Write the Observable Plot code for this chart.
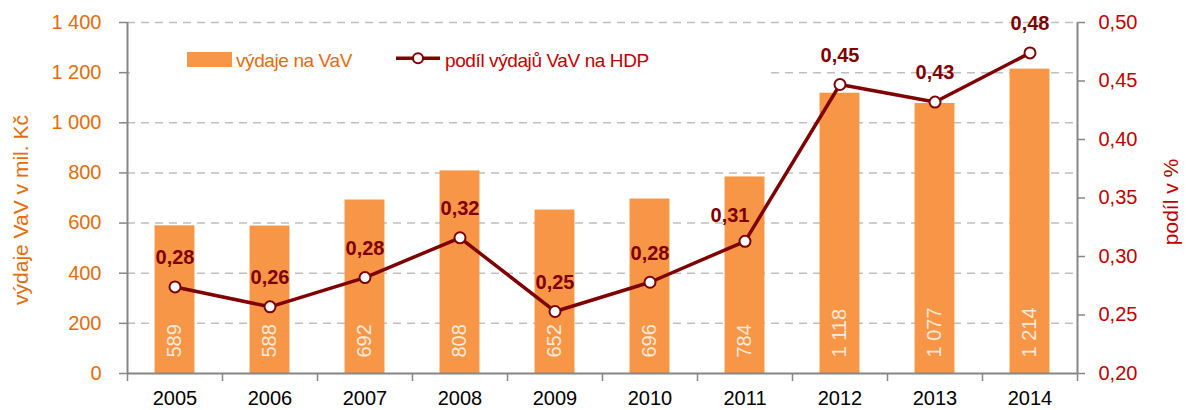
<!DOCTYPE html>
<html>
<head>
<meta charset="utf-8">
<script src="https://cdn.jsdelivr.net/npm/d3@7"></script>
<script src="https://cdn.jsdelivr.net/npm/@observablehq/plot@0.6"></script>
<style>
  html, body { margin: 0; padding: 0; background: #fff; }
  #wrap { position: relative; width: 1186px; height: 410px; font-family: "Liberation Sans", Arial, sans-serif; }
  #legend { position: absolute; left: 130px; top: 40px; background: #fff; }
</style>
</head>
<body>
<div id="wrap"></div>
<script>
// ---- data ----
const years = [2005, 2006, 2007, 2008, 2009, 2010, 2011, 2012, 2013, 2014];
const spending = [589, 588, 692, 808, 652, 696, 784, 1118, 1077, 1214];
const shareGdp = [0.274, 0.257, 0.282, 0.316, 0.253, 0.278, 0.313, 0.447, 0.432, 0.474];
const shareLabels = ["0,28", "0,26", "0,28", "0,32", "0,25", "0,28", "0,31", "0,45", "0,43", "0,48"];
const leftTicks = [0, 200, 400, 600, 800, 1000, 1200, 1400];
const rightTicks = [0.20, 0.25, 0.30, 0.35, 0.40, 0.45, 0.50];
const leftTitle = "výdaje VaV v mil. Kč";
const rightTitle = "podíl v %";
const legendBars = "výdaje na VaV";
const legendLine = "podíl výdajů VaV na HDP";

// ---- styling ----
const FONT = "Liberation Sans, Arial, sans-serif";
const ORANGE_BAR = "#F79646";
const ORANGE_TXT = "#E46C0A";
const RED_TXT = "#C00000";
const DARK = "#7F0000";
const GRAY = "#868686";
const GRID = "#BFBFBF";

const leftMax = 1400;
const rMin = 0.2, rMax = 0.5;
const toLeft = v => (v - rMin) / (rMax - rMin) * leftMax;

const fmtLocale = d3.formatLocale({decimal: ",", thousands: " ", grouping: [3], currency: ["", ""]});
const fmtInt = fmtLocale.format(",d");
const fmtShare = fmtLocale.format(".2f");

const data = years.map((y, i) => ({year: y, spend: spending[i], share: shareGdp[i], label: shareLabels[i]}));
const halfYears = [...years.map(y => y - 0.5), years[years.length - 1] + 0.5];
const xEdges = [years[0] - 0.5, years[years.length - 1] + 0.5];
const barHalf = 0.21;

const chart = Plot.plot({
  width: 1186,
  height: 410,
  marginLeft: 127,
  marginRight: 109,
  marginTop: 22,
  marginBottom: 37,
  style: {fontFamily: FONT, fontSize: "20px", background: "#fff", overflow: "visible"},
  x: {domain: xEdges, axis: null},
  y: {domain: [0, leftMax], axis: null},
  marks: [
    Plot.ruleY(leftTicks.filter(d => d > 0), {stroke: GRID, strokeWidth: 1.5, strokeDasharray: "8,6"}),
    Plot.rectY(data, {x1: d => d.year - barHalf, x2: d => d.year + barHalf, y1: 0, y2: "spend", fill: ORANGE_BAR}),
    Plot.text(data, {x: "year", y: 0, text: d => fmtInt(d.spend), rotate: -90, textAnchor: "start", dy: -16, fill: "#FDE9D9", fontSize: 20}),
    Plot.ruleY([0], {stroke: GRAY, strokeWidth: 2}),
    Plot.ruleX(xEdges, {stroke: GRAY, strokeWidth: 2}),
    Plot.axisX({ticks: halfYears, tickFormat: () => "", tickSize: 8, stroke: GRAY, strokeWidth: 1.5, label: null}),
    Plot.axisX({ticks: years, tickFormat: d => String(d), tickSize: 0, tickPadding: 17, fill: "#000", fontSize: 20, label: null}),
    Plot.axisY({anchor: "left", ticks: leftTicks, tickFormat: d => fmtInt(d), tickSize: 8, tickPadding: 18, stroke: GRAY, strokeWidth: 1.5, fill: ORANGE_TXT, fontSize: 20, label: null}),
    Plot.axisY({anchor: "right", ticks: rightTicks.map(toLeft), tickFormat: d => fmtShare(rMin + d / leftMax * (rMax - rMin)), tickSize: 7, tickPadding: 14, stroke: GRAY, strokeWidth: 1.5, fill: RED_TXT, fontSize: 20, label: null}),
    Plot.text([leftTitle], {frameAnchor: "left", textAnchor: "middle", dx: -106, dy: 12, rotate: -90, fill: ORANGE_TXT, fontSize: 21}),
    Plot.text([rightTitle], {frameAnchor: "right", textAnchor: "middle", dx: 94, dy: 4, rotate: -90, fill: RED_TXT, fontSize: 21}),
    Plot.line(data, {x: "year", y: d => toLeft(d.share), stroke: DARK, strokeWidth: 3.5}),
    Plot.dot(data, {x: "year", y: d => toLeft(d.share), r: 5.5, fill: "#fff", stroke: DARK, strokeWidth: 2}),
    Plot.text(data.filter(d => d.year !== 2011), {x: "year", y: d => toLeft(d.share), text: "label", dy: -29, fill: DARK, fontWeight: "bold", fontSize: 20}),
    Plot.text(data.filter(d => d.year === 2011), {x: "year", y: d => toLeft(d.share), text: "label", dy: -26, dx: -15, fill: DARK, fontWeight: "bold", fontSize: 20})
  ]
});

const wrap = document.getElementById("wrap");
wrap.appendChild(chart);

// legend (overlay with white background, as in the original)
const ns = "http://www.w3.org/2000/svg";
const leg = document.createElementNS(ns, "svg");
leg.setAttribute("id", "legend");
leg.setAttribute("width", 635);
leg.setAttribute("height", 36);
leg.innerHTML = `
  <rect x="57" y="12" width="45" height="15" fill="${ORANGE_BAR}"></rect>
  <text x="106" y="26.5" fill="${ORANGE_TXT}" font-family="${FONT}" font-size="19" letter-spacing="-0.4">${legendBars}</text>
  <line x1="266" x2="310" y1="18.3" y2="18.3" stroke="${DARK}" stroke-width="3.5"></line>
  <circle cx="288" cy="18.3" r="5" fill="#fff" stroke="${DARK}" stroke-width="2"></circle>
  <text x="315" y="26.5" fill="${RED_TXT}" font-family="${FONT}" font-size="19" letter-spacing="-0.4">${legendLine}</text>
`;
wrap.appendChild(leg);
</script>
</body>
</html>
